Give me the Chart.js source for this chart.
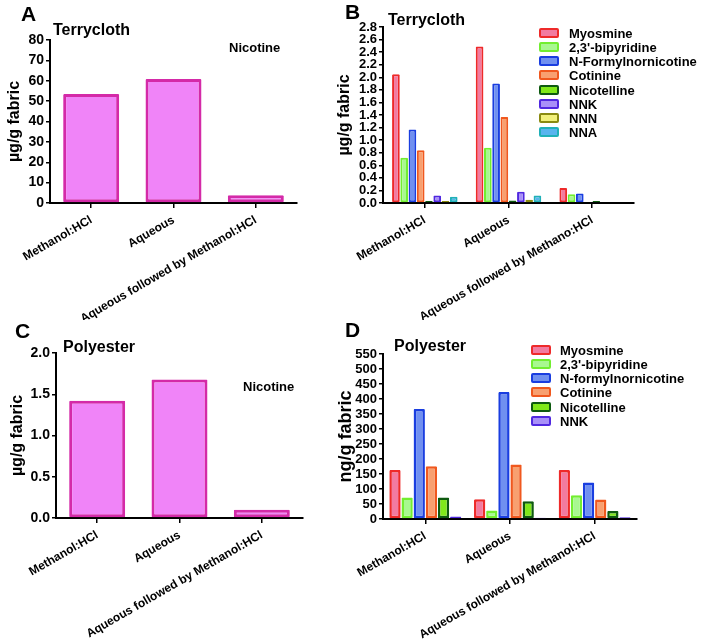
<!DOCTYPE html>
<html>
<head>
<meta charset="utf-8">
<script src="https://cdn.jsdelivr.net/npm/chart.js@4.4.0/dist/chart.umd.min.js"></script>
<style>
body { margin: 0; background: #fff; width: 703px; height: 643px; position: relative; overflow: hidden;
       font-family: "Liberation Sans", Arial, sans-serif; font-weight: bold; color: #000; }
.panel { position: absolute; }
.txt { position: absolute; white-space: nowrap; line-height: 1; }
.legend { position: absolute; }
.legend .row { position: absolute; left: 0; height: 14px; white-space: nowrap; }
.legend .box { position: absolute; left: 0; top: 2px; width: 16px; height: 6px; border: 2px solid; border-radius: 2px; }
.legend .lab { position: absolute; top: 1px; font-size: 13px; line-height: 1; }
</style>
</head>
<body>

<div class="panel" style="left:0;top:0"><canvas id="chartA" width="335" height="320"></canvas></div>
<div class="panel" style="left:335px;top:0"><canvas id="chartB" width="368" height="320"></canvas></div>
<div class="panel" style="left:0;top:320px"><canvas id="chartC" width="335" height="323"></canvas></div>
<div class="panel" style="left:335px;top:320px"><canvas id="chartD" width="368" height="323"></canvas></div>

<div class="txt" style="left:21px;top:3px;font-size:21px">A</div>
<div class="txt" style="left:53px;top:22px;font-size:16px">Terrycloth</div>
<div class="txt" style="left:229px;top:41px;font-size:13px">Nicotine</div>

<div class="txt" style="left:345px;top:1px;font-size:21px">B</div>
<div class="txt" style="left:388px;top:12px;font-size:16px">Terrycloth</div>

<div class="txt" style="left:15px;top:320px;font-size:21px">C</div>
<div class="txt" style="left:63px;top:339px;font-size:16px">Polyester</div>
<div class="txt" style="left:243px;top:380px;font-size:13px">Nicotine</div>

<div class="txt" style="left:345px;top:319px;font-size:21px">D</div>
<div class="txt" style="left:394px;top:338px;font-size:16px">Polyester</div>

<div class="legend" id="legendB" style="left:539px;top:26px"></div>
<div class="legend" id="legendD" style="left:531px;top:343px"></div>

<script>
// Categories (x axis)
const categories = ['Methanol:HCl', 'Aqueous', 'Aqueous followed by Methanol:HCl'];
const categoriesB = ['Methanol:HCl', 'Aqueous', 'Aqueous followed by Methano:HCl'];

// A: nicotine on terrycloth (µg/g)
const nicotineTerry = [53.5, 60.8, 3.8];
// C: nicotine on polyester (µg/g)
const nicotinePoly = [1.42, 1.68, 0.10];

// B: terrycloth, other compounds (µg/g)
const compoundsB = ['Myosmine', "2,3'-bipyridine", 'N-Formylnornicotine', 'Cotinine', 'Nicotelline', 'NNK', 'NNN', 'NNA'];
const myosmineB = [2.05, 2.49, 0.24];
const bipyridineB = [0.72, 0.88, 0.14];
const formylB = [1.17, 1.90, 0.15];
const cotinineB = [0.84, 1.37, 0];
const nicotellineB = [0.03, 0.04, 0.03];
const nnkB = [0.12, 0.18, 0.01];
const nnnB = [0.03, 0.05, 0.01];
const nnaB = [0.10, 0.12, 0.01];

// D: polyester, other compounds (ng/g)
const compoundsD = ['Myosmine', "2,3'-bipyridine", 'N-formylnornicotine', 'Cotinine', 'Nicotelline', 'NNK'];
const myosmineD = [163, 66, 163];
const bipyridineD = [72, 28, 79];
const formylD = [367, 423, 122];
const cotinineD = [176, 182, 65];
const nicotellineD = [72, 59, 27];
const nnkD = [8, 4, 6];

// Fill / border colours per series, in legend order
const fills = ['#f27ba0', '#a8f890', '#7090f0', '#f8a070', '#80e81a', '#a890f8', '#f2f07a', '#58b4ee'];
const borders = ['#ee2a2a', '#72ee30', '#1a3ee0', '#f0581e', '#0e5a10', '#5028e0', '#8a8a10', '#20b0b8'];
const nicotineFill = '#f084f8';
const nicotineBorder = '#d42aa8';

const fontFamily = '"Liberation Sans", Arial, sans-serif';

function seriesSets(names, values) {
    return names.map((name, i) => ({
        label: name,
        data: values[i],
        backgroundColor: fills[i],
        borderColor: borders[i]
    }));
}

function barChart(id, labels, datasets, cfg) {
    return new Chart(document.getElementById(id), {
        type: 'bar',
        data: { labels: labels, datasets: datasets },
        options: {
            responsive: false,
            animation: false,
            layout: { padding: cfg.padding },
            plugins: { legend: { display: false }, tooltip: { enabled: false } },
            datasets: {
                bar: {
                    categoryPercentage: cfg.catPct,
                    barPercentage: cfg.barPct,
                    borderWidth: cfg.borderW,
                    borderRadius: 1,
                    borderSkipped: false
                }
            },
            scales: {
                x: {
                    offset: true,
                    grid: { offset: false, drawOnChartArea: false, color: '#000', lineWidth: 1.5, tickLength: 5 },
                    border: { color: '#000', width: 2 },
                    ticks: {
                        color: '#000', autoSkip: false, minRotation: 30, maxRotation: 30, padding: 5,
                        font: { family: fontFamily, weight: 'bold', size: 12 }
                    },
                    afterFit: s => { s.height = cfg.xHeight; }
                },
                y: {
                    min: 0,
                    max: cfg.max,
                    grid: { drawOnChartArea: false, color: '#000', lineWidth: 1.5, tickLength: 4 },
                    border: { color: '#000', width: 2 },
                    ticks: {
                        stepSize: cfg.step, autoSkip: false, color: '#000', padding: 2,
                        font: { family: fontFamily, weight: 'bold', size: cfg.tickSize },
                        callback: v => cfg.fmt(v)
                    },
                    title: {
                        display: true, text: cfg.yTitle, color: '#000',
                        font: { family: fontFamily, weight: 'bold', size: cfg.titleSize },
                        padding: { top: cfg.titlePad, bottom: 0 }
                    },
                    afterFit: s => { s.width = cfg.yWidth; }
                }
            }
        }
    });
}

function buildLegend(id, names) {
    const el = document.getElementById(id);
    names.forEach((name, i) => {
        const row = document.createElement('div');
        row.className = 'row';
        row.style.top = (i * 14.15) + 'px';
        row.innerHTML = `<span class="box" style="background:${fills[i]};border-color:${borders[i]}"></span>` +
            `<span class="lab" style="left:${id === 'legendB' ? 30 : 29}px">${name}</span>`;
        el.appendChild(row);
    });
}

const intFmt = v => String(Math.round(v));
const oneDec = v => Number(v).toFixed(1);

// A
barChart('chartA', categories, [{
    label: 'Nicotine', data: nicotineTerry, backgroundColor: nicotineFill, borderColor: nicotineBorder
}], {
    padding: { top: 40, right: 38, left: 0, bottom: 0 },
    yWidth: 50, xHeight: 117, max: 80, step: 10, tickSize: 14, fmt: intFmt,
    yTitle: 'µg/g fabric', titleSize: 16, titlePad: 5, catPct: 1, barPct: 0.68, borderW: 3
});

// B
barChart('chartB', categoriesB,
    seriesSets(compoundsB, [myosmineB, bipyridineB, formylB, cotinineB, nicotellineB, nnkB, nnnB, nnaB]), {
    padding: { top: 27, right: 69, left: 0, bottom: 0 },
    yWidth: 48, xHeight: 117, max: 2.8, step: 0.2, tickSize: 13, fmt: oneDec,
    yTitle: 'µg/g fabric', titleSize: 16, titlePad: 0, catPct: 0.79, barPct: 0.93, borderW: 2
});

// C
barChart('chartC', categories, [{
    label: 'Nicotine', data: nicotinePoly, backgroundColor: nicotineFill, borderColor: nicotineBorder
}], {
    padding: { top: 33, right: 32, left: 0, bottom: 0 },
    yWidth: 56, xHeight: 125, max: 2.0, step: 0.5, tickSize: 14, fmt: oneDec,
    yTitle: 'µg/g fabric', titleSize: 16, titlePad: 8, catPct: 1, barPct: 0.68, borderW: 3
});

// D
barChart('chartD', categories,
    seriesSets(compoundsD, [myosmineD, bipyridineD, formylD, cotinineD, nicotellineD, nnkD]), {
    padding: { top: 34, right: 66, left: 0, bottom: 0 },
    yWidth: 48, xHeight: 124, max: 550, step: 50, tickSize: 13, fmt: intFmt,
    yTitle: 'ng/g fabric', titleSize: 18, titlePad: 0, catPct: 0.86, barPct: 0.93, borderW: 2.5
});

buildLegend('legendB', compoundsB);
buildLegend('legendD', compoundsD);
</script>
</body>
</html>
